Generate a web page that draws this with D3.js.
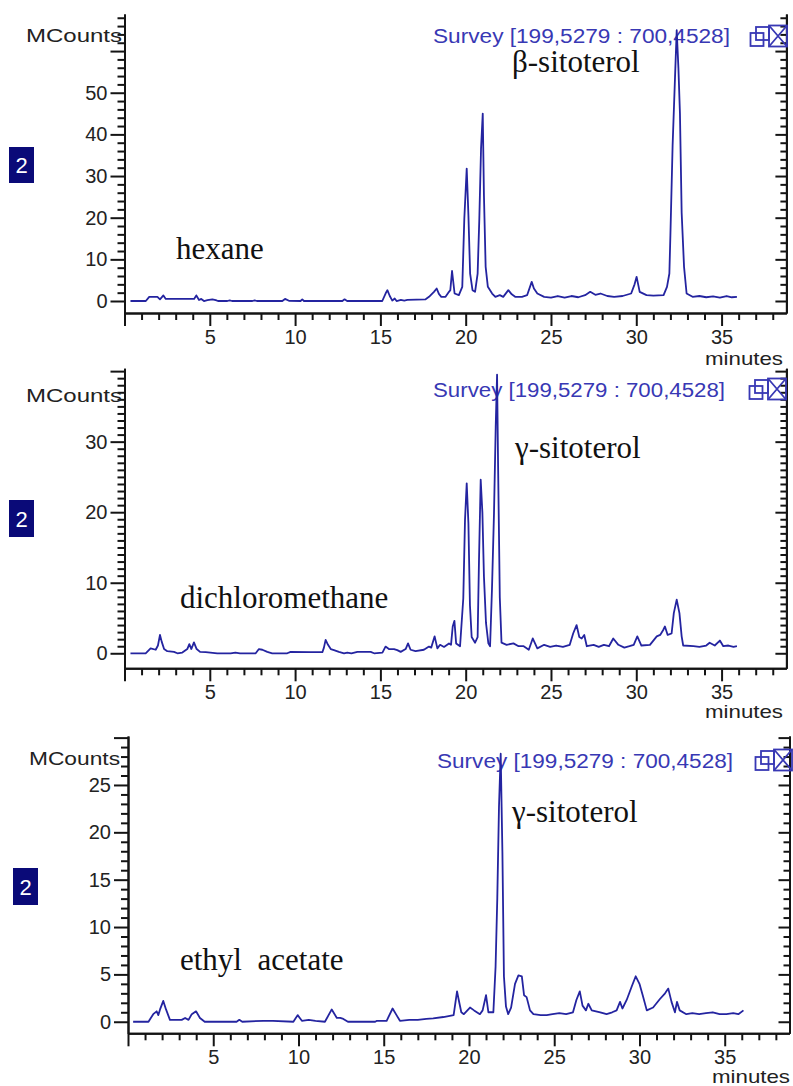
<!DOCTYPE html>
<html>
<head>
<meta charset="utf-8">
<script src="https://cdn.jsdelivr.net/npm/d3@7"></script>
<style>
  html, body { margin: 0; padding: 0; background: #fff; }
  svg { display: block; }
  text { white-space: pre; }
</style>
</head>
<body>
<svg id="chart" width="793" height="1086"></svg>
<script>
// ---------------- DATA ----------------
const solventNames = ["hexane", "dichloromethane", "ethyl  acetate"];
const peakNames = ["β-sitoterol", "γ-sitoterol", "γ-sitoterol"];
const surveyLabel = "Survey [199,5279 : 700,4528]";
const yAxisTitle = "MCounts";
const xAxisTitle = "minutes";
const traceNumber = "2";

const xTickLabels = [5, 10, 15, 20, 25, 30, 35];

const hexaneYTicks = [0, 10, 20, 30, 40, 50];
const dcmYTicks = [0, 10, 20, 30];
const eaYTicks = [0, 5, 10, 15, 20, 25];

const hexaneTime = [0.35,1.25,1.45,1.93,2.08,2.28,2.42,4.08,4.21,4.37,4.5,4.66,4.86,5.15,5.35,5.48,6.03,6.17,6.3,7.5,7.63,7.76,9.25,9.41,9.64,10.32,10.42,10.52,12.77,12.9,13.05,15.11,15.31,15.41,15.55,15.7,15.84,15.95,16.2,16.4,16.58,17.65,17.85,18.14,18.3,18.43,18.57,18.82,19.02,19.1,19.2,19.35,19.6,19.8,19.92,20.06,20.16,20.26,20.4,20.55,20.7,20.8,20.9,21.0,21.07,21.17,21.3,21.55,21.74,22.0,22.2,22.5,22.7,22.9,23.3,23.6,23.87,24.0,24.2,24.6,25.0,25.4,25.8,26.2,26.6,27.0,27.3,27.6,27.9,28.3,28.7,29.2,29.7,29.9,30.02,30.2,30.6,31.0,31.6,31.8,31.94,32.0,32.13,32.27,32.37,32.47,32.56,32.66,32.8,32.95,33.3,33.7,34.1,34.5,34.9,35.3,35.6,35.9];
const hexaneCounts = [0,0,1.0,1.0,0.4,1.35,0.5,0.5,1.35,0.25,0.5,0,0.2,0.4,0.2,0,0,0.15,0,0,0.15,0,0,0.5,0.05,0,0.4,0,0,0.4,0,0,1.85,2.6,1.2,0.1,0.6,0,0.25,0.1,0.25,0.4,1.0,2.2,3.0,1.7,1.0,1.0,2.2,2.6,7.2,1.8,1.4,3.4,19.8,31.8,20.6,6.6,2.6,2.2,6.6,19.8,36.6,45,25.4,8.2,3.4,1.8,1.0,1.4,1.0,2.6,1.6,1.0,1.0,1.4,4.6,3.0,1.8,1.0,0.8,1.2,0.8,1.2,0.9,1.4,2.2,1.5,1.8,1.2,1.0,1.2,1.8,4.0,5.8,2.2,1.4,1.3,1.4,3.4,6.6,15.8,37.4,53.6,65,55.9,45,21.2,8.2,1.8,1.0,1.2,0.9,1.1,0.8,1.2,0.9,1.0];

const dcmTime = [0.35,1.24,1.53,1.83,1.96,2.08,2.18,2.32,2.51,2.9,3.1,3.39,3.68,3.8,3.92,4.07,4.23,4.43,4.76,5.44,5.64,6.22,6.5,6.77,7.69,7.88,8.08,8.37,8.66,9.54,9.74,10.9,11.6,11.69,11.79,11.93,12.09,12.28,12.57,12.87,13.06,13.3,13.65,14.43,14.63,15.12,15.3,15.5,15.8,15.99,16.19,16.48,16.62,16.77,17.06,17.55,17.85,17.98,18.18,18.34,18.5,18.73,19.02,19.14,19.24,19.34,19.44,19.67,19.86,19.96,20.06,20.16,20.25,20.35,20.55,20.7,20.78,20.88,20.98,21.07,21.19,21.33,21.43,21.54,21.66,21.76,21.84,21.9,22.0,22.1,22.4,22.8,23.1,23.4,23.7,23.93,24.2,24.6,24.95,25.3,25.7,26.1,26.3,26.5,26.66,26.8,26.95,27.1,27.5,27.8,28.1,28.4,28.65,28.95,29.3,29.6,29.85,30.06,30.3,30.8,31.2,31.4,31.58,31.68,31.84,32.07,32.2,32.37,32.53,32.66,32.75,33.35,33.7,34.1,34.3,34.6,34.9,35.1,35.4,35.7,35.9];
const dcmCounts = [0,0,0.7,0.5,1.1,2.6,1.65,0.6,0.3,0.2,0,0.1,0.6,1.3,0.6,1.55,0.6,0.2,0.15,0,0,0,0.1,0,0,0.6,0.5,0.2,0,0,0.2,0.15,0.15,0.8,1.9,1.2,0.6,0.45,0.2,0,0.1,0,0.2,0.2,0,0.1,0.95,0.6,0.6,0.45,0.2,0.6,1.4,0.5,0.3,0.5,0.95,0.8,2.4,0.7,1.2,0.9,1.4,1.2,3.8,4.6,1.4,1.0,7.8,18.9,24.1,18.4,6.8,2.3,1.5,2.3,13.2,24.6,19.9,10.9,4.3,1.4,1.0,9.0,19.9,32.1,39.5,26.5,7.9,1.5,1.2,1.4,1.0,1.0,0.5,2.1,0.7,1.2,0.9,1.1,0.9,1.2,2.8,4.0,2.3,2.1,2.6,1.0,1.2,0.9,1.2,1.0,2.1,1.2,0.8,1.0,1.2,2.4,1.1,1.2,2.4,2.6,3.3,3.8,2.6,2.8,5.7,7.6,5.7,2.4,1.1,1.0,0.9,1.1,1.5,1.1,1.8,1.0,1.1,0.9,1.0];

const eaTime = [0.3,1.2,1.48,1.68,1.78,1.88,2.07,2.23,2.46,3.15,3.35,3.55,3.74,3.99,4.22,4.5,6.37,6.53,6.7,7.94,8.5,9.7,9.95,10.2,10.6,11.0,11.55,11.95,12.25,12.45,12.63,12.9,14.5,14.6,15.17,15.52,15.75,15.95,16.5,17.0,17.5,17.9,18.5,19.1,19.3,19.4,19.55,19.7,20.06,20.3,20.64,20.8,21.0,21.14,21.43,21.56,21.66,21.76,21.86,21.96,22.05,22.17,22.3,22.47,22.7,22.9,23.1,23.23,23.38,23.58,23.78,24.2,24.56,24.9,25.3,25.7,26.1,26.3,26.5,26.66,26.86,27.0,27.2,27.7,28.07,28.4,28.66,28.86,29.0,29.25,29.54,29.78,30.0,30.19,30.43,30.8,31.2,31.5,31.69,31.88,32.08,32.2,32.36,32.75,33.1,33.5,33.9,34.3,34.7,35.1,35.5,35.8,36.1];
const eaCounts = [0,0,0.8,1.1,0.7,1.3,2.2,1.3,0.2,0.2,0.4,0.2,0.8,1.1,0.4,0,0,0.2,0,0.1,0.1,0,0.7,0.1,0.2,0.1,0,1.3,0.4,0.4,0.3,0,0,0.1,0.1,1.4,0.7,0.1,0.2,0.2,0.3,0.35,0.5,0.7,3.2,2.3,1.0,0.8,1.5,1.2,0.8,1.2,2.8,1.0,1.0,5.8,13.0,22.7,28.3,18.0,4.8,1.6,0.8,1.5,4.0,4.9,4.8,2.8,2.6,1.2,0.8,0.7,0.7,0.8,0.9,0.8,1.0,2.3,3.2,1.7,1.2,1.9,1.2,1.0,0.8,1.0,1.2,2.1,1.4,2.3,3.7,4.8,4.0,2.8,1.2,1.5,2.4,3.0,3.5,2.1,1.0,2.1,1.2,0.8,0.9,0.8,0.9,1.0,0.8,0.8,0.9,0.8,1.2];

// ---------------- LAYOUT ----------------
const panels = [
  { time: hexaneTime, counts: hexaneCounts, yTicks: hexaneYTicks, yMajorStep: 10, yMinorStep: 2,
    xr: [124.5, 786.4], yr: [313, 14], yd: [-2.88, 68.9],
    box: [9, 147, 25, 36], mcounts: { x1: 122, y: 42, w: 96 },
    survey: { x: 433, y: 43, w: 297 }, icons: { x: 750, y: 25 },
    minutes: { x1: 783, y: 365 },
    solvent: { x: 176, y: 259 }, peak: { x: 512, y: 72 } },
  { time: dcmTime, counts: dcmCounts, yTicks: dcmYTicks, yMajorStep: 10, yMinorStep: 1,
    xr: [124.5, 786.4], yr: [668.3, 368.3], yd: [-2.13, 40.4],
    box: [9, 500, 25, 37], mcounts: { x1: 122, y: 402, w: 96 },
    survey: { x: 433, y: 397, w: 292 }, icons: { x: 749, y: 378 },
    minutes: { x1: 783, y: 718 },
    solvent: { x: 180, y: 608 }, peak: { x: 515, y: 458 } },
  { time: eaTime, counts: eaCounts, yTicks: eaYTicks, yMajorStep: 5, yMinorStep: 1,
    xr: [128, 789.5], yr: [1033.3, 736], yd: [-1.22, 30.17],
    box: [13, 868, 25, 37], mcounts: { x1: 120, y: 765, w: 91 },
    survey: { x: 437, y: 768, w: 296 }, icons: { x: 755, y: 749 },
    minutes: { x1: 790, y: 1083 },
    solvent: { x: 180, y: 970 }, peak: { x: 512, y: 822 } }
];

const xDomain = [0, 38.8];
const traceColor = "#2424a0";
const blueText = "#3838b4";
const axisColor = "#141414";
const sans = "'Liberation Sans', Arial, sans-serif";
const serif = "'Liberation Serif', 'Times New Roman', serif";

const svg = d3.select("#chart");

function styleAxis(g) {
  g.select(".domain").attr("stroke", axisColor).attr("stroke-width", 2);
  g.selectAll(".tick line").attr("stroke", axisColor).attr("stroke-width", 2);
  g.selectAll(".tick text").attr("fill", "#222").attr("font-family", sans).attr("font-size", 20);
}

panels.forEach((p, i) => {
  const x = d3.scaleLinear().domain(xDomain).range(p.xr);
  const y = d3.scaleLinear().domain(p.yd).range(p.yr);
  const g = svg.append("g");

  const yMaxV = p.yd[1];
  const yMinor = d3.range(0, yMaxV + 1e-9, p.yMinorStep)
    .filter(v => Math.abs(v / p.yMajorStep - Math.round(v / p.yMajorStep)) > 1e-6);
  const yMajor = d3.range(0, yMaxV + 1e-9, p.yMajorStep);
  const labelSet = new Set(p.yTicks);
  const xMajor = d3.range(0, xDomain[1] + 1e-9, 5);
  const xMinor = d3.range(0, xDomain[1] + 1e-9, 1).filter(v => v % 5 !== 0);
  const xLabelSet = new Set(xTickLabels);

  // minor ticks
  g.append("g").attr("transform", `translate(${p.xr[0]},0)`)
    .call(d3.axisLeft(y).tickValues(yMinor).tickSize(7).tickSizeOuter(0).tickFormat(() => ""))
    .call(styleAxis);
  g.append("g").attr("transform", `translate(${p.xr[1]},0)`)
    .call(d3.axisRight(y).tickValues(yMinor).tickSize(-6).tickSizeOuter(0).tickFormat(() => ""))
    .call(styleAxis);
  g.append("g").attr("transform", `translate(0,${p.yr[0]})`)
    .call(d3.axisBottom(x).tickValues(xMinor).tickSize(7).tickSizeOuter(0).tickFormat(() => ""))
    .call(styleAxis);

  // major ticks
  g.append("g").attr("transform", `translate(${p.xr[0]},0)`)
    .call(d3.axisLeft(y).tickValues(yMajor).tickSize(14).tickPadding(3).tickSizeOuter(0)
      .tickFormat(d => labelSet.has(d) ? String(d) : ""))
    .call(styleAxis);
  g.append("g").attr("transform", `translate(${p.xr[1]},0)`)
    .call(d3.axisRight(y).tickValues(yMajor).tickSize(-11).tickSizeOuter(0).tickFormat(() => ""))
    .call(styleAxis);
  g.append("g").attr("transform", `translate(0,${p.yr[0]})`)
    .call(d3.axisBottom(x).tickValues(xMajor).tickSize(13).tickPadding(4).tickSizeOuter(0)
      .tickFormat(d => xLabelSet.has(d) ? String(d) : ""))
    .call(styleAxis);

  // survey label (behind trace)
  g.append("text").attr("x", p.survey.x).attr("y", p.survey.y)
    .attr("font-family", sans).attr("font-size", 20).attr("fill", blueText)
    .attr("textLength", p.survey.w).attr("lengthAdjust", "spacingAndGlyphs")
    .text(surveyLabel);

  // icons
  const ic = g.append("g").attr("transform", `translate(${p.icons.x},${p.icons.y})`)
    .attr("fill", "none").attr("stroke", blueText).attr("stroke-width", 1.8);
  ic.append("rect").attr("x", 0.5).attr("y", 8).attr("width", 13).attr("height", 13);
  ic.append("rect").attr("x", 6).attr("y", 2).attr("width", 13).attr("height", 13);
  ic.append("rect").attr("x", 19).attr("y", 0.5).attr("width", 18).attr("height", 21);
  ic.append("path").attr("d", "M19,0.5 L37,21.5 M37,0.5 L19,21.5");

  // trace
  const pts = p.time.map((t, k) => [t, p.counts[k]]);
  g.append("path").datum(pts)
    .attr("fill", "none").attr("stroke", traceColor).attr("stroke-width", 1.8)
    .attr("stroke-linejoin", "round")
    .attr("d", d3.line().x(d => x(d[0])).y(d => y(d[1])));

  // MCounts
  g.append("text").attr("x", p.mcounts.x1 - p.mcounts.w).attr("y", p.mcounts.y)
    .attr("font-family", sans).attr("font-size", 19).attr("fill", "#222")
    .attr("textLength", p.mcounts.w).attr("lengthAdjust", "spacingAndGlyphs")
    .text(yAxisTitle);

  // minutes
  g.append("text").attr("x", p.minutes.x1 - 78).attr("y", p.minutes.y)
    .attr("font-family", sans).attr("font-size", 19).attr("fill", "#222")
    .attr("textLength", 78).attr("lengthAdjust", "spacingAndGlyphs")
    .text(xAxisTitle);

  // trace number box
  g.append("rect").attr("x", p.box[0]).attr("y", p.box[1]).attr("width", p.box[2]).attr("height", p.box[3])
    .attr("fill", "#0a0a78");
  g.append("text").attr("x", p.box[0] + p.box[2] / 2).attr("y", p.box[1] + p.box[3] / 2 + 8)
    .attr("text-anchor", "middle").attr("font-family", sans).attr("font-size", 22).attr("fill", "#fff")
    .text(traceNumber);

  // annotations
  g.append("text").attr("x", p.solvent.x).attr("y", p.solvent.y)
    .attr("font-family", serif).attr("font-size", 31).attr("fill", "#111")
    .text(solventNames[i]);
  g.append("text").attr("x", p.peak.x).attr("y", p.peak.y)
    .attr("font-family", serif).attr("font-size", 31).attr("fill", "#111")
    .text(peakNames[i]);
});
</script>
</body>
</html>
